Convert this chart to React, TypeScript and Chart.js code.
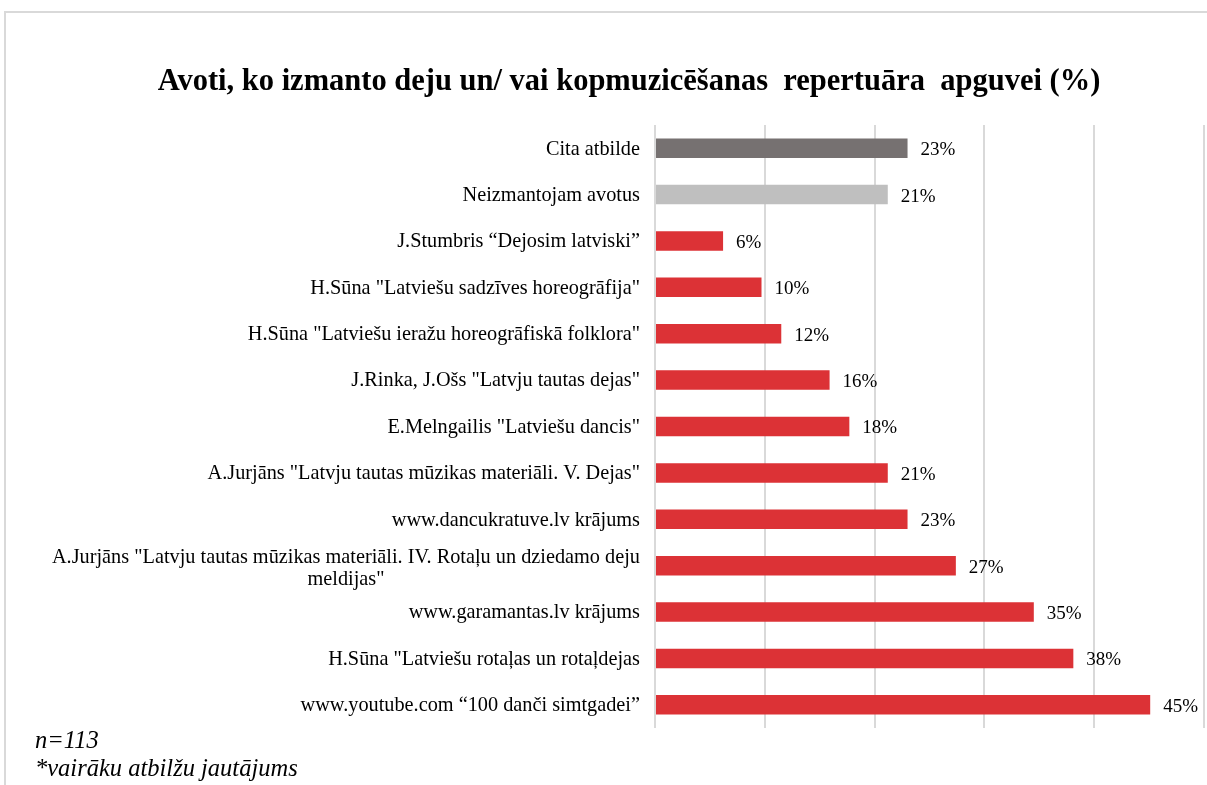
import React, { useEffect, useRef } from "react";
import { Chart, registerables } from "chart.js";

Chart.register(...registerables);

const TITLE = "Avoti, ko izmanto deju un/ vai kopmuzicēšanas  repertuāra  apguvei (%)";

const categories: string[][] = [
  ["Cita atbilde"],
  ["Neizmantojam avotus"],
  ["J.Stumbris “Dejosim latviski”"],
  ['H.Sūna "Latviešu sadzīves horeogrāfija"'],
  ['H.Sūna "Latviešu ieražu horeogrāfiskā folklora"'],
  ['J.Rinka, J.Ošs "Latvju tautas dejas"'],
  ['E.Melngailis "Latviešu dancis"'],
  ['A.Jurjāns "Latvju tautas mūzikas materiāli. V. Dejas"'],
  ["www.dancukratuve.lv krājums"],
  ['A.Jurjāns "Latvju tautas mūzikas materiāli. IV. Rotaļu un dziedamo deju', 'meldijas"'],
  ["www.garamantas.lv krājums"],
  ['H.Sūna "Latviešu rotaļas un rotaļdejas'],
  ["www.youtube.com “100 danči simtgadei”"],
];

const values = [23.0, 21.2, 6.2, 9.7, 11.5, 15.9, 17.7, 21.2, 23.0, 27.4, 34.5, 38.1, 45.1];

const RED = "#DC3236";
const barColors = [
  "#767171", "#BFBFBF", RED, RED, RED, RED, RED, RED, RED, RED, RED, RED, RED,
];

const footnotes = ["n=113", "*vairāku atbilžu jautājums"];

const X_MAX = 50;
const X_STEP = 10;

const SERIF = '"Liberation Serif", "Times New Roman", serif';

export default function App() {
  const ref = useRef<HTMLCanvasElement>(null);

  useEffect(() => {
    const canvas = ref.current;
    if (!canvas) return;

    const decor = {
      id: "decor",
      beforeDraw(chart: any) {
        const { ctx, width, height } = chart;
        ctx.save();
        ctx.fillStyle = "#ffffff";
        ctx.fillRect(0, 0, width, height);
        ctx.strokeStyle = "#d9d9d9";
        ctx.lineWidth = 2;
        ctx.strokeRect(5, 12, width + 40, height + 40);
        ctx.restore();
      },
      afterDatasetsDraw(chart: any) {
        const { ctx } = chart;
        const y = chart.scales.y;
        ctx.save();
        // title
        ctx.fillStyle = "#000000";
        ctx.font = `bold 30.5px ${SERIF}`;
        ctx.textAlign = "center";
        ctx.textBaseline = "middle";
        ctx.fillText(TITLE, 629, 82);

        // category labels
        ctx.font = `20.3px ${SERIF}`;
        const right = 640;
        const lh = 22;
        categories.forEach((lines, i) => {
          const cy = y.getPixelForValue(i) + 1;
          if (lines.length === 1) {
            ctx.textAlign = "right";
            ctx.fillText(lines[0], right, cy);
          } else {
            const maxW = Math.max(...lines.map((l) => ctx.measureText(l).width));
            ctx.textAlign = "center";
            const top = cy - ((lines.length - 1) * lh) / 2 + 2;
            lines.forEach((l, k) => ctx.fillText(l, right - maxW / 2, top + k * lh));
          }
        });

        // value labels
        ctx.font = `19px ${SERIF}`;
        const meta = chart.getDatasetMeta(0);
        ctx.textAlign = "left";
        meta.data.forEach((bar: any, i: number) => {
          ctx.fillText(`${Math.round(values[i])}%`, bar.x + 13, bar.y + 2);
        });

        // footnotes
        ctx.font = `italic 24.5px ${SERIF}`;
        ctx.textAlign = "left";
        ctx.fillText(footnotes[0], 35, 742);
        ctx.fillText(footnotes[1], 35, 770);
        ctx.restore();
      },
    };

    const chart = new Chart(canvas, {
      type: "bar",
      data: {
        labels: categories.map((c) => c.join(" ")),
        datasets: [
          {
            data: values,
            backgroundColor: barColors,
            borderWidth: 0,
            barPercentage: 0.42,
            categoryPercentage: 1,
          },
        ],
      },
      options: {
        indexAxis: "y",
        animation: false,
        responsive: false,
        devicePixelRatio: 1,
        layout: { padding: { left: 655, right: 3, top: 125, bottom: 57 } },
        plugins: {
          legend: { display: false },
          tooltip: { enabled: false },
          title: { display: false },
        },
        scales: {
          x: {
            min: 0,
            max: X_MAX,
            ticks: { display: false, stepSize: X_STEP },
            grid: { color: "#d9d9d9", lineWidth: 2, drawTicks: false },
            border: { display: false },
          },
          y: {
            display: false,
          },
        },
      },
      plugins: [decor],
    });

    return () => chart.destroy();
  }, []);

  return (
    <div style={{ position: "absolute", left: 0, top: 0, width: 1207, height: 785 }}>
      <canvas ref={ref} width={1207} height={785} style={{ display: "block" }} />
    </div>
  );
}
